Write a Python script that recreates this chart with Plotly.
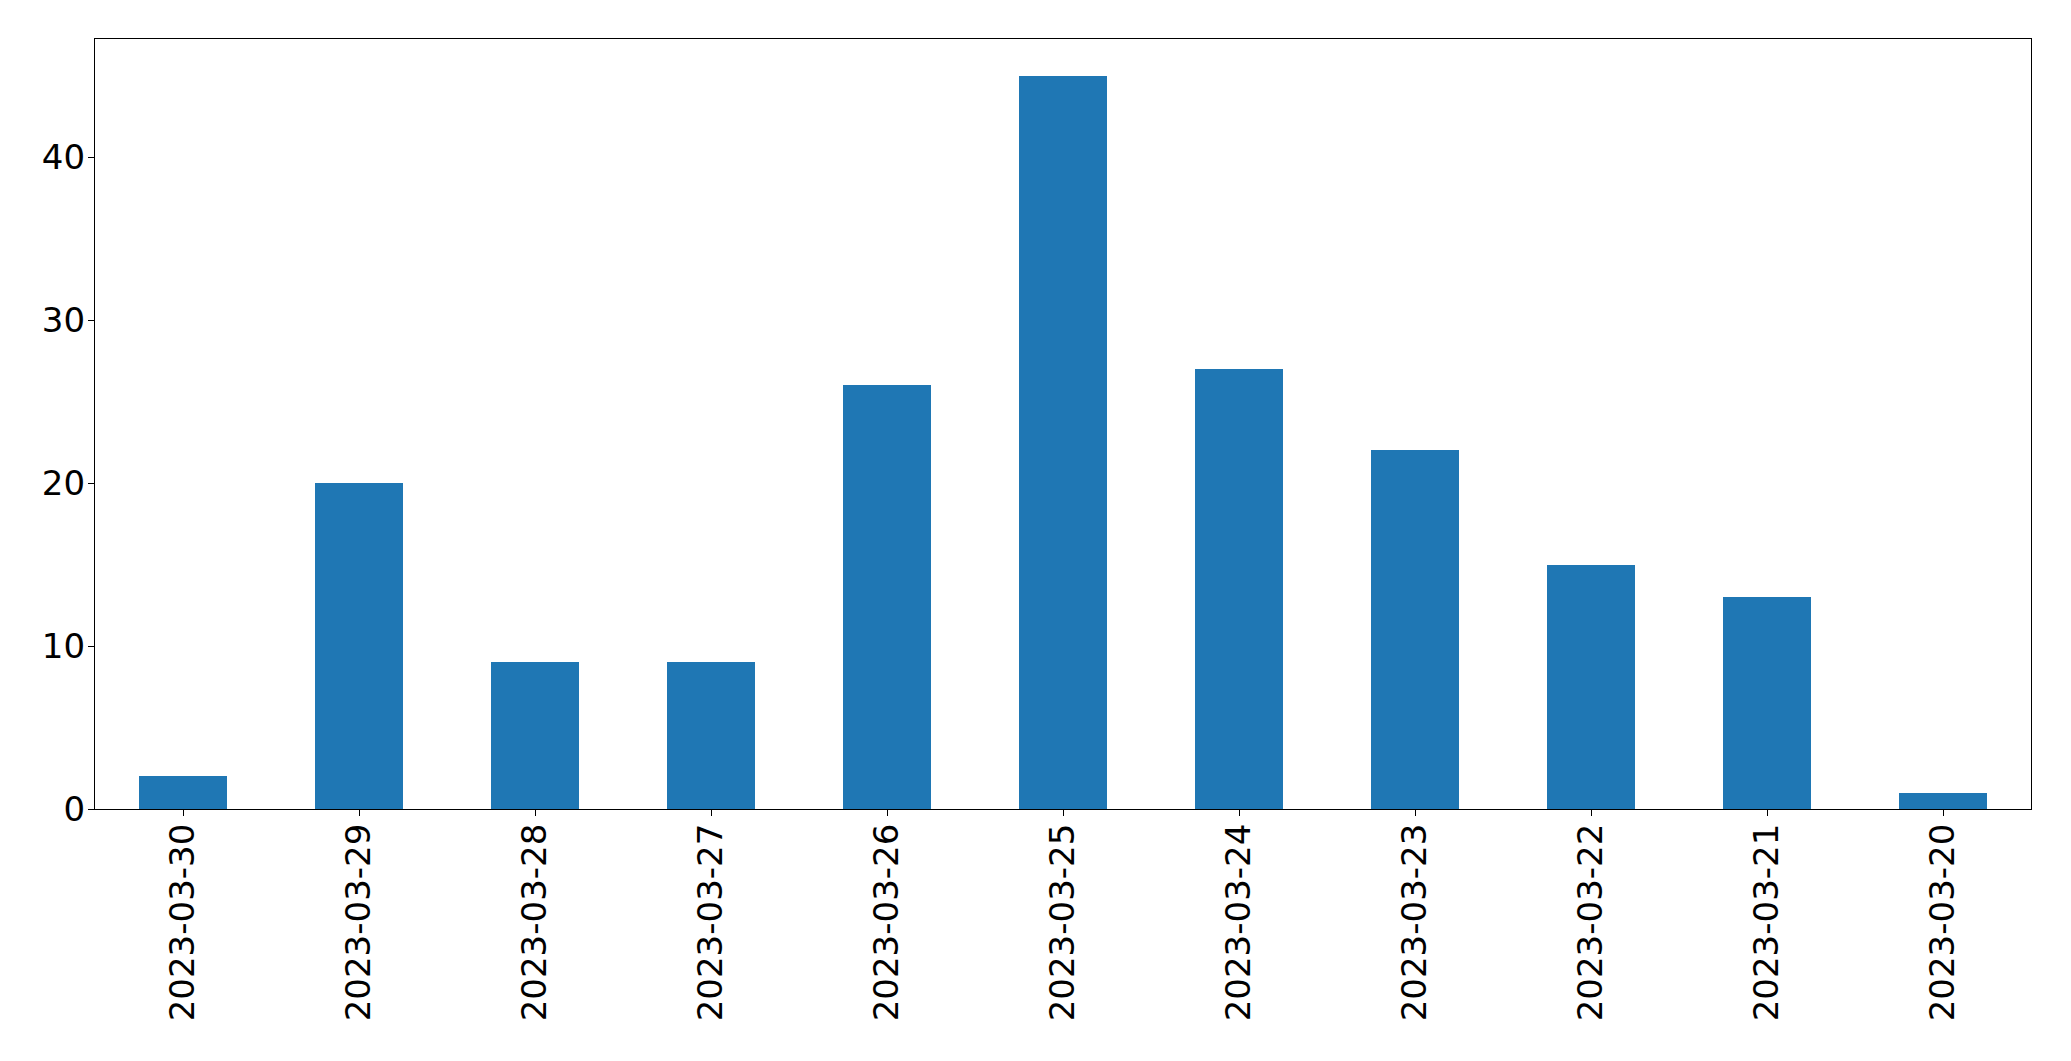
import plotly.graph_objects as go

dates = ["2023-03-30", "2023-03-29", "2023-03-28", "2023-03-27", "2023-03-26",
         "2023-03-25", "2023-03-24", "2023-03-23", "2023-03-22", "2023-03-21", "2023-03-20"]
counts = [2, 20, 9, 9, 26, 45, 27, 22, 15, 13, 1]
y_ticks = [0, 10, 20, 30, 40]

fig = go.Figure(go.Bar(x=dates, y=counts, marker_color="#1f77b4", marker_line_width=0, width=0.5))

font = dict(family="DejaVu Sans", size=34, color="black")
fig.update_layout(
    width=2071, height=1061, autosize=False,
    margin=dict(l=95, r=40, t=39, b=252),
    plot_bgcolor="white", paper_bgcolor="white",
    showlegend=False, font=font, bargap=0,
)
fig.update_xaxes(
    type="category", range=[-0.5, len(dates) - 0.5], tickangle=-90,
    showline=True, linecolor="black", linewidth=1.2, mirror=True,
    ticks="outside", ticklen=6, tickwidth=1.2, tickcolor="black",
    showgrid=False, zeroline=False, tickfont=font, ticklabelstandoff=-6,
)
fig.update_yaxes(
    range=[0, max(counts) * 1.05], tickvals=y_ticks,
    showline=True, linecolor="black", linewidth=1.2, mirror=True,
    ticks="outside", ticklen=6, tickwidth=1.2, tickcolor="black",
    showgrid=False, zeroline=False, tickfont=font, ticklabelstandoff=-4,
)
fig.write_html("out.html", config={"displayModeBar": False},
               post_script="document.body.style.margin='0';document.body.style.overflow='hidden';")
